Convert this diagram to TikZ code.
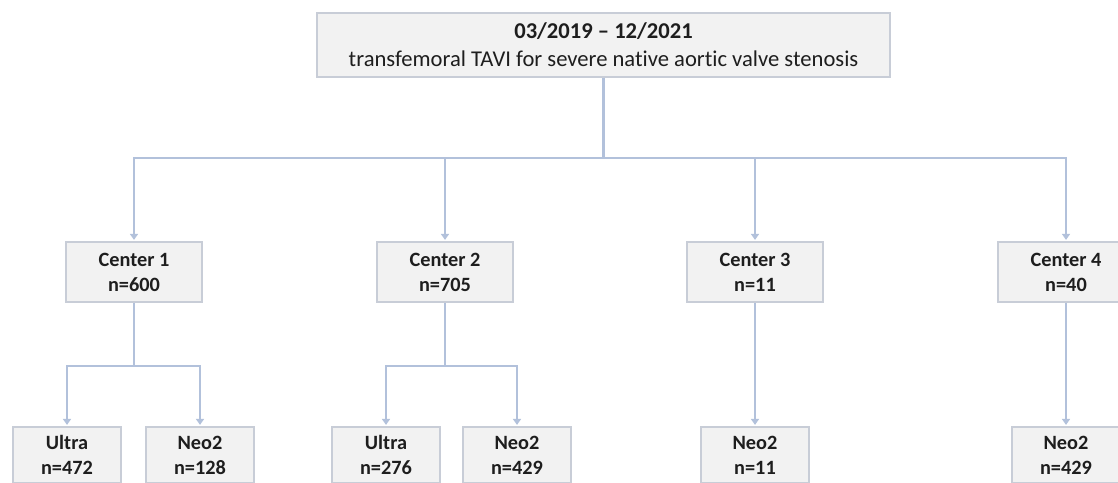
\documentclass[tikz,border=0pt]{standalone}
\usepackage{fontspec}
\setmainfont{Carlito}[Ligatures=NoCommon]
\usetikzlibrary{arrows.meta}
\definecolor{lineblue}{HTML}{B2C1DB}
\definecolor{boxfill}{HTML}{F2F2F2}
\definecolor{boxline}{HTML}{C8CDD7}
\definecolor{txt}{HTML}{1E1E1E}
\begin{document}
\begin{tikzpicture}[x=1pt,y=-1pt,
  box/.style={draw=boxline, fill=boxfill, line width=1.2pt, inner sep=0pt, align=center, text=txt},
  titlebox/.style={box, minimum width=573pt, minimum height=64pt, font=\fontsize{22.6}{28}\selectfont},
  centerbox/.style={box, minimum width=136pt, minimum height=60pt, font=\fontsize{20.3}{25}\selectfont\bfseries},
  leafbox/.style={box, minimum width=108pt, minimum height=56pt, font=\fontsize{20.3}{25}\selectfont\bfseries},
  conn/.style={draw=lineblue, line width=2.2pt},
  arr/.style={conn, shorten >=1.5pt, -{Triangle[width=8pt,length=6pt]}}]
\clip (0,0) rectangle (1118,482);
\fill[white] (0,0) rectangle (1118,482);

\node[titlebox] (top) at (603.5,45) {\textbf{03/2019 – 12/2021}\\transfemoral TAVI for severe native aort\kern0pt ic valve stenosis};

\node[centerbox] (c1) at (134,272) {Center 1\\n=600};
\node[centerbox] (c2) at (445,272) {Center 2\\n=705};
\node[centerbox] (c3) at (755,272) {Center 3\\n=11};
\node[centerbox] (c4) at (1066,272) {Center 4\\n=40};

\node[leafbox] (u1) at (67,455) {Ultra\\n=472};
\node[leafbox] (n1) at (200,455) {Neo2\\n=128};
\node[leafbox] (u2) at (386,455) {Ultra\\n=276};
\node[leafbox] (n2) at (517,455) {Neo2\\n=429};
\node[leafbox] (n3) at (755,455) {Neo2\\n=11};
\node[leafbox] (n4) at (1066,455) {Neo2\\n=429};

\coordinate (j0) at (top.south |- 0,158);
\draw[conn] (top.south) -- (j0);
\draw[arr] (j0) -| (c1.north);
\draw[arr] (j0) -| (c2.north);
\draw[arr] (j0) -| (c3.north);
\draw[arr] (j0) -| (c4.north);

\coordinate (s1) at (c1.south |- 0,366);
\draw[conn] (c1.south) -- (s1);
\draw[arr] (s1) -| (u1.north);
\draw[arr] (s1) -| (n1.north);

\coordinate (s2) at (c2.south |- 0,366);
\draw[conn] (c2.south) -- (s2);
\draw[arr] (s2) -| (u2.north);
\draw[arr] (s2) -| (n2.north);

\draw[arr] (c3.south) -- (n3.north);
\draw[arr] (c4.south) -- (n4.north);
\end{tikzpicture}
\end{document}
